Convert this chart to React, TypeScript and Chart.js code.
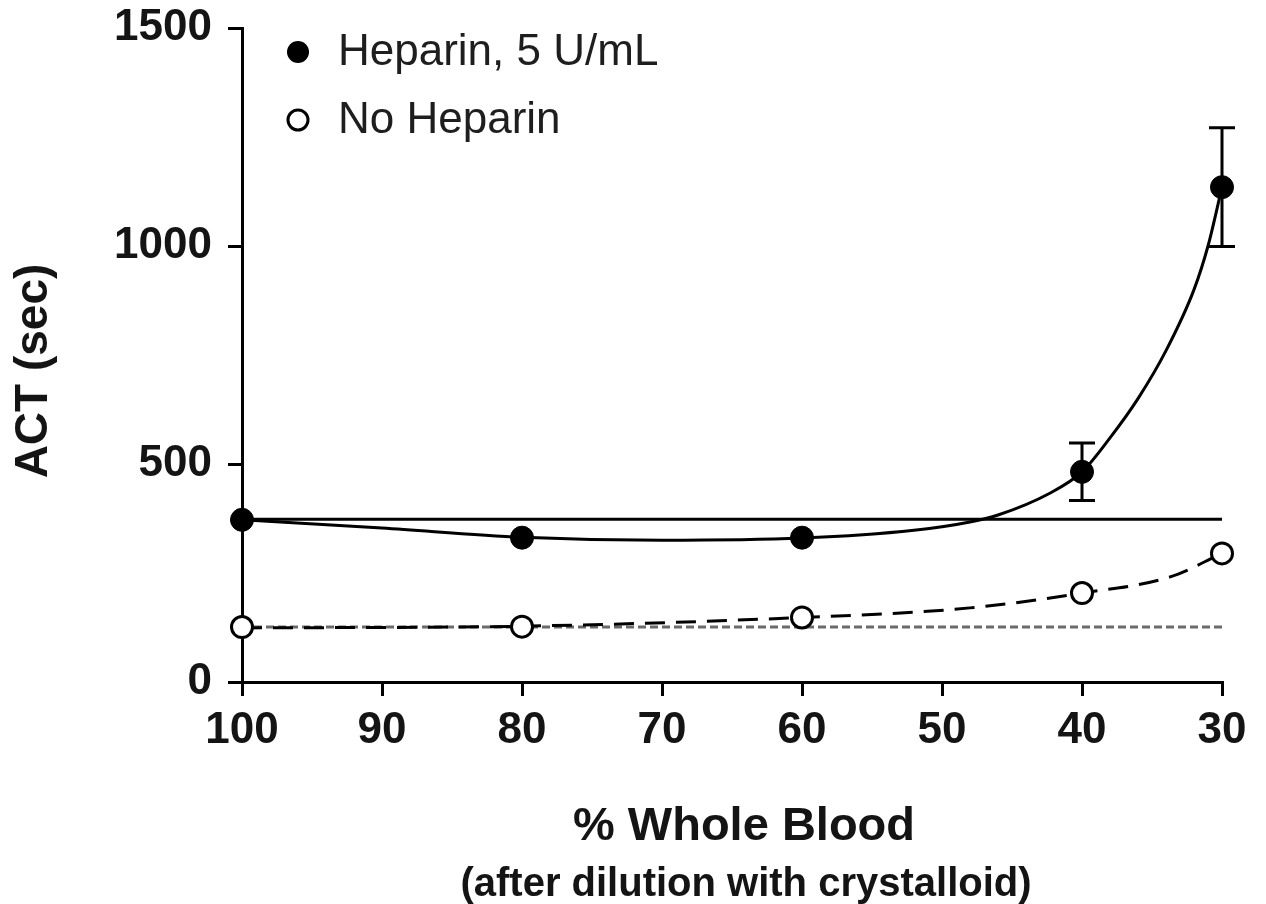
import React, { useEffect, useRef } from "react";
import { Chart, registerables } from "chart.js";

Chart.register(...registerables);

// ---- Data ----
const xPercent = [100, 80, 60, 40, 30];
const heparinACT = [372, 331, 331, 482, 1135];
const heparinSD = [0, 0, 0, 66, 136];
const noHeparinACT = [126, 127, 148, 204, 295];

const heparinFitX = [100, 90, 80, 70, 60, 52, 48, 46, 42.3, 40, 38, 36, 34, 32, 31, 30];
const heparinFitY = [372, 353, 332, 325, 330, 348, 367, 383, 433, 482, 560, 650, 760, 900, 1000, 1135];

const noHeparinFitX = [100, 80, 60, 48, 40, 33.7, 30];
const noHeparinFitY = [124, 128, 148, 170, 204, 241, 295];

const heparinBaseline = 373;
const noHeparinBaseline = 126;
const baselineRange = [100, 30];

const xTicks = [100, 90, 80, 70, 60, 50, 40, 30];
const yTicks = [0, 500, 1000, 1500];

const seriesLabels = ["Heparin, 5 U/mL", "No Heparin"];
const xTitle = "% Whole Blood";
const xSubtitle = "(after dilution with crystalloid)";
const yTitle = "ACT (sec)";

const FONT = "'Liberation Sans', Arial, Helvetica, sans-serif";
const TEXT = "#141414";

const pts = (xs: number[], ys: number[]) => xs.map((x, i) => ({ x, y: ys[i] }));

const errorBarPlugin = {
  id: "errorBars",
  afterDatasetsDraw(chart: any) {
    const { ctx, scales } = chart;
    const xs = scales.x;
    const ys = scales.y;
    ctx.save();
    ctx.strokeStyle = "#000";
    ctx.lineWidth = 3;
    xPercent.forEach((x, i) => {
      const sd = heparinSD[i];
      if (!sd) return;
      const px = xs.getPixelForValue(x);
      const top = ys.getPixelForValue(heparinACT[i] + sd);
      const bot = ys.getPixelForValue(heparinACT[i] - sd);
      ctx.beginPath();
      ctx.moveTo(px, top);
      ctx.lineTo(px, bot);
      ctx.moveTo(px - 13, top);
      ctx.lineTo(px + 13, top);
      ctx.moveTo(px - 13, bot);
      ctx.lineTo(px + 13, bot);
      ctx.stroke();
    });
    ctx.restore();
  },
};

const textPlugin = {
  id: "texts",
  afterDraw(chart: any) {
    const { ctx, chartArea } = chart;
    const cx = (chartArea.left + chartArea.right) / 2 + 12;
    const cy = (chartArea.top + chartArea.bottom) / 2 + 16;
    ctx.save();
    ctx.fillStyle = TEXT;
    ctx.textAlign = "center";
    ctx.textBaseline = "middle";
    ctx.font = `bold 47px ${FONT}`;
    ctx.fillText(xTitle, cx, chartArea.bottom + 145);
    ctx.font = `bold 40px ${FONT}`;
    ctx.fillText(xSubtitle, cx + 2, chartArea.bottom + 203);
    ctx.save();
    ctx.translate(34, cy);
    ctx.rotate(-Math.PI / 2);
    ctx.font = `bold 46px ${FONT}`;
    ctx.fillText(yTitle, 0, 0);
    ctx.restore();

    // legend (inside plot, top-left)
    const rows = [
      { label: seriesLabels[0], filled: true, y: 52 },
      { label: seriesLabels[1], filled: false, y: 120 },
    ];
    rows.forEach((r) => {
      ctx.beginPath();
      ctx.arc(298, r.y, r.filled ? 11 : 10, 0, Math.PI * 2);
      if (r.filled) {
        ctx.fillStyle = "#000";
        ctx.fill();
      } else {
        ctx.fillStyle = "#fff";
        ctx.fill();
        ctx.lineWidth = 3;
        ctx.strokeStyle = "#000";
        ctx.stroke();
      }
      ctx.fillStyle = "#1e1e1e";
      ctx.font = `44px ${FONT}`;
      ctx.textBaseline = "middle";
      ctx.textAlign = "left";
      ctx.fillText(r.label, 338, r.y + 1);
    });
    ctx.restore();
  },
};

export default function App() {
  const ref = useRef<HTMLCanvasElement | null>(null);

  useEffect(() => {
    if (!ref.current) return;
    const chart = new Chart(ref.current, {
      type: "scatter",
      data: {
        datasets: [
          {
            label: seriesLabels[0],
            data: pts(xPercent, heparinACT),
            showLine: false,
            pointRadius: 11.5,
            pointBackgroundColor: "#000",
            pointBorderColor: "#000",
            pointBorderWidth: 1,
            clip: false,
            order: 0,
          },
          {
            label: seriesLabels[1],
            data: pts(xPercent, noHeparinACT),
            showLine: false,
            pointRadius: 10.5,
            pointBackgroundColor: "#fff",
            pointBorderColor: "#000",
            pointBorderWidth: 3,
            clip: false,
            order: 1,
          },
          {
            label: "Heparin fit",
            data: pts(heparinFitX, heparinFitY),
            showLine: true,
            pointRadius: 0,
            borderColor: "#000",
            borderWidth: 3,
            cubicInterpolationMode: "monotone",
            clip: false,
            order: 3,
          },
          {
            label: "No heparin fit",
            data: pts(noHeparinFitX, noHeparinFitY),
            showLine: true,
            pointRadius: 0,
            borderColor: "#000",
            borderWidth: 3,
            borderDash: [20, 11],
            cubicInterpolationMode: "monotone",
            clip: false,
            order: 4,
          },
          {
            label: "Heparin baseline",
            data: pts(baselineRange, [heparinBaseline, heparinBaseline]),
            showLine: true,
            pointRadius: 0,
            borderColor: "#000",
            borderWidth: 3,
            order: 5,
          },
          {
            label: "No heparin baseline",
            data: pts(baselineRange, [noHeparinBaseline, noHeparinBaseline]),
            showLine: true,
            pointRadius: 0,
            borderColor: "#6a6a6a",
            borderWidth: 3,
            borderDash: [8, 4],
            order: 6,
          },
        ],
      },
      options: {
        responsive: false,
        animation: false,
        events: [],
        layout: { padding: { top: 28, right: 44, left: 0, bottom: 0 } },
        plugins: {
          legend: { display: false },
          tooltip: { enabled: false },
        },
        scales: {
          x: {
            type: "linear",
            min: 30,
            max: 100,
            reverse: true,
            afterBuildTicks: (s: any) => {
              s.ticks = xTicks.map((v) => ({ value: v }));
            },
            ticks: {
              autoSkip: false,
              maxRotation: 0,
              padding: 8,
              color: TEXT,
              font: { family: FONT, size: 44, weight: "bold" },
              callback: (v: any) => String(v),
            },
            grid: { drawOnChartArea: false, drawTicks: true, tickLength: 14, color: "#000", lineWidth: 3 },
            border: { display: true, color: "#000", width: 3 },
            afterFit: (s: any) => {
              s.height = 222;
            },
          },
          y: {
            type: "linear",
            min: 0,
            max: 1500,
            afterBuildTicks: (s: any) => {
              s.ticks = yTicks.map((v) => ({ value: v }));
            },
            ticks: {
              padding: 16,
              color: TEXT,
              font: { family: FONT, size: 44, weight: "bold" },
              callback: (v: any) => String(v),
            },
            grid: { drawOnChartArea: false, drawTicks: true, tickLength: 14, color: "#000", lineWidth: 3 },
            border: { display: true, color: "#000", width: 3 },
            afterFit: (s: any) => {
              s.width = 242;
              s.paddingTop = 0;
              s.paddingBottom = 0;
            },
          },
        },
      } as any,
      plugins: [errorBarPlugin, textPlugin],
    });
    return () => chart.destroy();
  }, []);

  return (
    <canvas
      ref={ref}
      width={1266}
      height={904}
      style={{ position: "absolute", left: 0, top: 0, display: "block", background: "#fff" }}
    />
  );
}
